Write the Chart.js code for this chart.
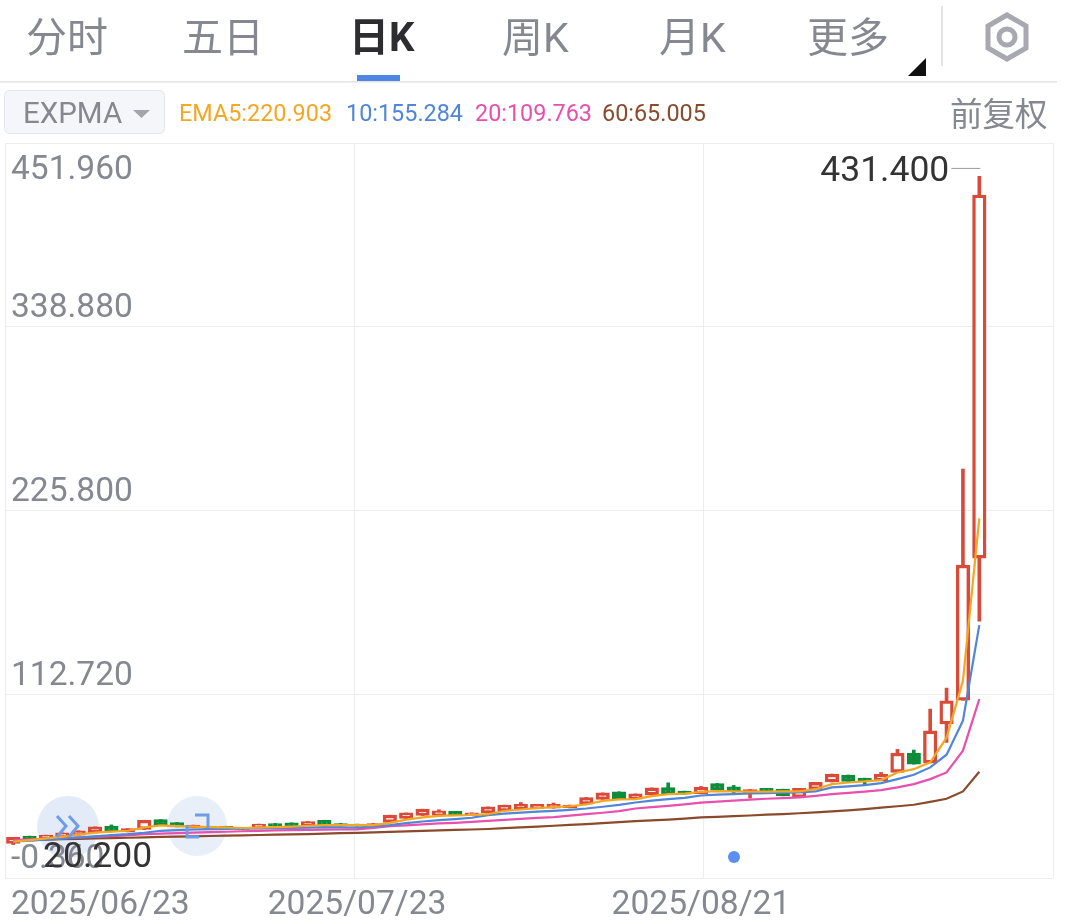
<!DOCTYPE html>
<html>
<head>
<meta charset="utf-8">
<script src="https://cdn.jsdelivr.net/npm/chart.js@4/dist/chart.umd.min.js"></script>
<style>
    body { margin: 0; background: #fff; width: 1074px; height: 924px; overflow: hidden; position: relative; font-family: Roboto, "Noto Sans CJK SC", sans-serif; }
    canvas { position: absolute; left: 0; top: 0; }
    .txt { position: absolute; white-space: nowrap; line-height: 1; }
    .tab { font-size: 41px; color: #858890; top: 18px; font-family: Roboto, "Noto Sans CJK SC", sans-serif; }
    .legend { font-size: 23.4px; top: 102px; }
    svg { position: absolute; left: 0; top: 0; }
</style>
</head>
<body>
<!-- lingkaran tombol ada di bawah canvas supaya teks harga tidak pudar -->
<svg width="1074" height="924">
    <circle cx="68" cy="827" r="31" fill="#e3ebf9"/>
    <circle cx="197" cy="826" r="30" fill="#e9eff9"/>
</svg>

<canvas id="klineChart" width="1074" height="924"></canvas>

<svg id="overlay" width="1074" height="924">
    <!-- garis header -->
    <rect x="0" y="81" width="1057" height="1.5" fill="#e4e4e6"/>
    <rect x="357" y="75" width="43" height="6" fill="#4f86e3"/>
    <rect x="941" y="6" width="2" height="60" fill="#e4e4e6"/>
    <polygon points="908,76 926,76 926,58" fill="#111"/>
    <polygon points="1007,15 1026,26 1026,48 1007,59 988,48 988,26" fill="none" stroke="#a7a8b0" stroke-width="5"/>
    <circle cx="1007" cy="37" r="8" fill="none" stroke="#a7a8b0" stroke-width="5"/>
    <!-- tombol EXPMA -->
    <rect x="4.5" y="90.5" width="160" height="43" rx="5" fill="#f5f6f9" stroke="#e4e5ea"/>
    <polygon points="133,110 150,110 141.5,118" fill="#a3a5ad"/>
    <!-- ikon tombol bulat -->
    <polyline points="57,816 66,826 57,837" fill="none" stroke="#6f9ce6" stroke-width="3"/>
    <polyline points="69,816 78,826 69,837" fill="none" stroke="#6f9ce6" stroke-width="3"/>
    <polyline points="195,815 208,815 208,828" fill="none" stroke="#6f9ce6" stroke-width="3"/>
    <polyline points="187,825 187,837 199,837" fill="none" stroke="#6f9ce6" stroke-width="3"/>
    <circle cx="734" cy="857" r="6" fill="#5b8fef"/>
</svg>

<span class="txt tab" style="left:26px">分时</span>
<span class="txt tab" style="left:182px">五日</span>
<span class="txt tab" style="left:349px;color:#2d2d2f;font-weight:700;font-size:40px">日K</span>
<span class="txt tab" style="left:502px">周K</span>
<span class="txt tab" style="left:659px">月K</span>
<span class="txt tab" style="left:807px">更多</span>
<span class="txt" style="left:23px;top:99px;font-size:29.5px;color:#858890">EXPMA</span>
<span class="txt legend" style="left:179px;color:#f5a623">EMA5:220.903</span>
<span class="txt legend" style="left:346px;color:#4f86d9">10:155.284</span>
<span class="txt legend" style="left:475px;color:#e84fae">20:109.763</span>
<span class="txt legend" style="left:602px;color:#8a4a2b">60:65.005</span>
<span class="txt" style="left:950px;top:96px;font-size:32.5px;color:#858890;font-family:'Noto Sans CJK SC'">前复权</span>

<script>
// Data
const tickIndex = [0, 21, 42];
const tickLabels = ['2025/06/23', '2025/07/23', '2025/08/21'];
const yTicks = [-0.36, 112.72, 225.8, 338.88, 451.96];
const gridStops = [0, 1, 2, 3];
const slotCount = 64; // 60 candle + ruang kosong di kanan

const openPrice = [20.9, 25.4, 24.0, 25.0, 26.0, 27.6, 31.5, 28.0, 29.5, 35.6, 33.8, 30.5, 31.5, 31.5, 30.7, 30.7, 33.2, 33.6, 32.0, 35.2,
    33.2, 32.8, 31.5, 33.8, 36.3, 38.1, 38.1, 40.6, 38.1, 39.7, 41.0, 42.2, 42.4, 42.6, 42.8, 45.1, 48.0, 52.7, 48.2, 50.6,
    55.3, 53.1, 51.5, 57.8, 55.8, 51.7, 54.8, 54.3, 49.2, 54.1, 58.7, 63.0, 61.1, 59.5, 64.6, 76.5, 70.4, 94.4, 109.0, 196.5];
const closePrice = [24.6, 23.7, 26.0, 27.4, 28.7, 31.1, 28.0, 30.1, 35.2, 32.0, 31.1, 32.2, 30.1, 30.1, 29.5, 32.8, 31.5, 31.5, 34.4, 32.0,
    31.5, 31.5, 33.2, 38.3, 39.7, 42.0, 41.0, 38.1, 39.7, 43.4, 44.5, 45.1, 44.9, 45.1, 44.5, 49.2, 52.0, 48.0, 51.4, 55.1,
    51.2, 51.2, 55.4, 53.7, 52.9, 54.1, 52.9, 50.2, 54.8, 58.5, 63.6, 59.0, 59.5, 63.6, 76.5, 69.7, 90.2, 108.7, 192.2, 419.95];
const highPrice = [24.6, 25.4, 26.0, 27.4, 28.7, 31.1, 32.3, 30.1, 35.2, 35.6, 33.8, 32.2, 31.5, 31.5, 30.7, 32.8, 33.2, 33.6, 34.4, 35.2,
    33.2, 32.8, 33.2, 38.3, 39.7, 42.0, 41.6, 40.6, 39.7, 43.4, 44.5, 46.1, 44.9, 45.8, 44.5, 49.2, 52.0, 52.7, 51.4, 55.1,
    58.2, 53.1, 56.0, 57.8, 56.6, 54.1, 54.8, 54.3, 54.8, 58.5, 63.6, 63.0, 61.1, 64.6, 78.8, 78.4, 103.6, 116.5, 251.3, 431.4];
const lowPrice = [20.2, 23.7, 24.0, 25.0, 26.0, 27.6, 28.0, 28.0, 29.5, 32.0, 31.1, 30.5, 30.1, 30.1, 29.5, 30.7, 31.5, 31.5, 32.0, 32.0,
    31.5, 31.5, 31.5, 33.8, 36.0, 38.1, 38.1, 38.1, 38.1, 39.7, 41.0, 42.2, 42.4, 42.6, 42.8, 45.1, 48.0, 48.0, 48.2, 50.6,
    51.2, 51.2, 51.5, 53.7, 51.7, 48.8, 52.9, 50.2, 49.2, 54.1, 58.7, 59.0, 57.0, 59.5, 64.6, 69.7, 70.4, 83.1, 109.0, 157.7];

const ema5 = [22.0, 23.0, 24.0, 25.0, 26.4, 27.6, 28.2, 28.7, 30.7, 32.0, 31.6, 31.3, 31.0, 30.8, 30.4, 30.6, 31.0, 31.3, 31.8, 32.2,
    32.2, 32.2, 32.2, 33.6, 35.6, 36.9, 37.9, 38.2, 38.4, 38.9, 41.0, 41.8, 42.6, 43.2, 43.8, 44.9, 47.1, 48.0, 48.2, 50.0,
    51.2, 51.6, 52.7, 53.1, 52.9, 52.8, 52.8, 52.9, 52.9, 54.3, 57.4, 58.4, 59.1, 59.9, 64.6, 66.6, 70.8, 86.0, 121.0, 220.903];
const ema10 = [22.0, 22.6, 23.2, 23.9, 24.5, 25.3, 26.0, 26.6, 27.5, 28.7, 29.1, 29.5, 29.7, 29.9, 30.0, 30.1, 30.3, 30.5, 30.7, 30.9,
    30.8, 30.7, 31.4, 32.2, 33.4, 34.4, 35.2, 35.9, 36.7, 38.3, 39.2, 39.9, 40.5, 41.0, 41.6, 42.4, 43.5, 44.6, 46.1, 47.3,
    48.2, 49.0, 50.4, 50.9, 51.2, 51.7, 51.9, 52.1, 52.3, 52.9, 55.4, 56.0, 56.8, 58.0, 60.5, 63.2, 67.7, 75.5, 96.4, 155.284];
const ema20 = [23.0, 23.4, 23.8, 24.2, 24.6, 25.0, 25.4, 25.9, 26.6, 27.0, 27.3, 27.6, 27.9, 28.1, 28.4, 28.7, 28.9, 29.1, 29.3, 29.4,
    29.5, 29.6, 30.4, 31.5, 32.0, 32.6, 33.2, 33.6, 34.2, 34.8, 35.4, 36.0, 36.6, 37.1, 38.0, 38.9, 39.8, 40.8, 42.4, 43.2,
    44.0, 44.9, 46.0, 46.6, 47.3, 47.9, 48.4, 48.8, 49.2, 50.2, 51.3, 52.0, 52.8, 53.7, 55.4, 57.4, 60.5, 64.6, 78.0, 109.763];
const ema60 = [22.6, 23.0, 23.2, 23.5, 23.7, 24.0, 24.2, 24.4, 24.6, 24.9, 25.1, 25.3, 25.5, 25.7, 25.9, 26.1, 26.3, 26.5, 26.7, 27.0,
    27.2, 27.4, 27.7, 28.0, 28.3, 28.6, 28.9, 29.2, 29.5, 29.8, 30.3, 30.8, 31.3, 31.8, 32.3, 32.8, 33.4, 34.0, 34.6, 35.1,
    35.6, 36.2, 36.9, 37.3, 37.7, 38.1, 38.6, 39.0, 39.5, 40.0, 40.6, 41.2, 42.0, 43.0, 43.8, 44.7, 46.5, 48.4, 52.9, 65.005];

const RED = '#da4a38';
const GREEN = '#0e8c3a';
const categories = Array.from({ length: slotCount }, (_, i) => {
    let pos = tickIndex.indexOf(i);
    return pos >= 0 ? tickLabels[pos] : '';
});
const isUp = openPrice.map((o, i) => closePrice[i] >= o);
const bodies = openPrice.map((o, i) => [o, closePrice[i]]);
const wicks = lowPrice.map((l, i) => [l, highPrice[i]]);

function lineSet(label, data, color) {
    return { type: 'line', label: label, data: data, borderColor: color, borderWidth: 2.2, pointRadius: 0, tension: 0, order: 0, xAxisID: 'x', yAxisID: 'y' };
}

// Label sumbu digambar sendiri karena posisinya di dalam area plot
const axisLabels = {
    id: 'axisLabels',
    afterDatasetsDraw(chart) {
        const ctx = chart.ctx;
        const x = chart.scales.x;
        const y = chart.scales.y;
        ctx.save();
        ctx.textBaseline = 'middle';
        ctx.fillStyle = '#858890';
        ctx.textAlign = 'left';
        ctx.font = '33.5px Roboto';
        y.ticks.forEach((t, i) => {
            let py = y.getPixelForValue(t.value);
            let offset = i === y.ticks.length - 1 ? 28 : -18;
            ctx.fillText(t.value.toFixed(3), 11, py + offset);
        });
        ctx.font = '33.6px Roboto';
        tickIndex.forEach((idx, i) => {
            let px = x.getPixelForValue(idx);
            ctx.textAlign = i === 0 ? 'left' : 'center';
            ctx.fillText(tickLabels[i], i === 0 ? 11 : px, 906);
        });

        // label harga tertinggi dan terendah
        let maxHigh = Math.max(...highPrice);
        let minLow = Math.min(...lowPrice);
        let highX = x.getPixelForValue(highPrice.indexOf(maxHigh));
        let highY = y.getPixelForValue(maxHigh);
        ctx.fillStyle = '#333';
        ctx.font = '35.5px Roboto';
        ctx.textAlign = 'right';
        ctx.fillText(maxHigh.toFixed(3), highX - 30, highY - 4);
        ctx.strokeStyle = '#999';
        ctx.lineWidth = 1;
        ctx.beginPath();
        ctx.moveTo(highX - 28, highY - 8);
        ctx.lineTo(highX + 1, highY - 8);
        ctx.stroke();
        ctx.textAlign = 'left';
        ctx.fillText(minLow.toFixed(3), 43, y.getPixelForValue(minLow) + 14);
        ctx.restore();
    }
};

new Chart(document.getElementById('klineChart').getContext('2d'), {
    type: 'bar',
    data: {
        labels: categories,
        datasets: [
            lineSet('EMA5', ema5, '#f5a623'),
            lineSet('EMA10', ema10, '#4f86d9'),
            lineSet('EMA20', ema20, '#e84fae'),
            lineSet('EMA60', ema60, '#8a4a2b'),
            {
                label: 'Body',
                data: bodies,
                grouped: false,
                barThickness: 13.5,
                backgroundColor: isUp.map(u => u ? '#fff' : GREEN),
                borderColor: isUp.map(u => u ? RED : GREEN),
                borderWidth: 3.4,
                borderSkipped: false,
                order: 1
            },
            {
                label: 'Wick',
                data: wicks,
                grouped: false,
                barThickness: 3,
                backgroundColor: isUp.map(u => u ? RED : GREEN),
                borderWidth: 0,
                order: 2
            }
        ]
    },
    options: {
        responsive: false,
        animation: false,
        layout: { padding: { left: 5, right: 21, top: 143, bottom: 46 } },
        plugins: { legend: { display: false }, tooltip: { enabled: false } },
        scales: {
            x: {
                display: false,
                offset: true
            },
            // sumbu bantu untuk garis vertikal, dibagi tiga sama rata
            xGrid: {
                type: 'linear',
                position: 'bottom',
                offset: false,
                min: gridStops[0],
                max: gridStops[gridStops.length - 1],
                afterBuildTicks: axis => { axis.ticks = gridStops.map(v => ({ value: v })); },
                ticks: { display: false },
                grid: { color: '#ededed', drawTicks: false, offset: false },
                border: { display: false }
            },
            y: {
                min: yTicks[0],
                max: yTicks[yTicks.length - 1],
                afterBuildTicks: axis => { axis.ticks = yTicks.map(v => ({ value: v })); },
                ticks: { display: false },
                grid: { color: '#ededed', drawTicks: false },
                border: { display: false }
            }
        }
    },
    plugins: [axisLabels]
});
</script>
</body>
</html>
